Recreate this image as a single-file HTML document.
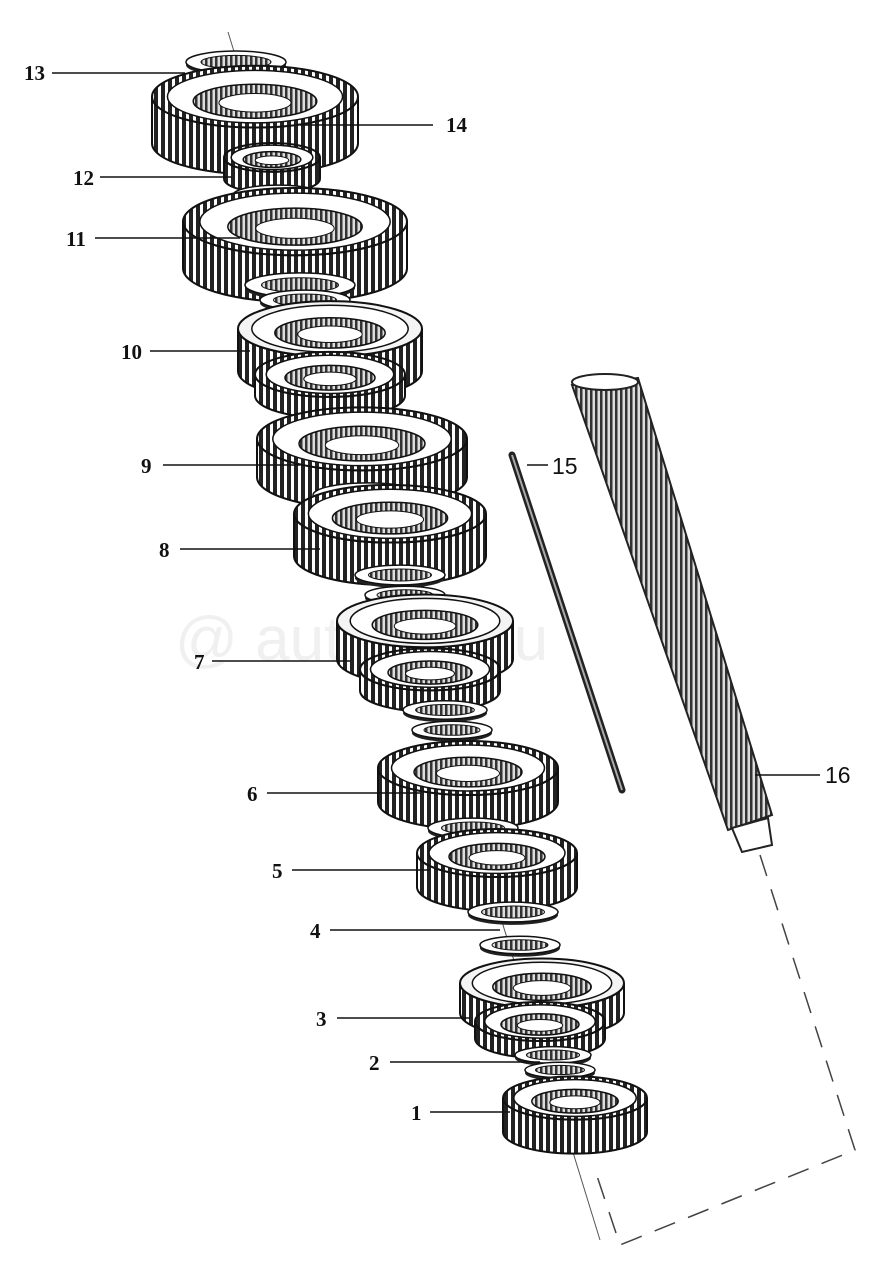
<!DOCTYPE html>
<html><head><meta charset="utf-8"><style>
html,body{margin:0;padding:0;background:#fff;}
svg{display:block;}
.l{font-family:"Liberation Serif",serif;font-weight:bold;font-size:21px;fill:#111;}
</style></head><body>
<svg id="s" width="879" height="1273" viewBox="0 0 879 1273" xmlns="http://www.w3.org/2000/svg">
<defs>
<pattern id="t" width="7" height="10" patternUnits="userSpaceOnUse">
<rect width="7" height="10" fill="#fff"/><rect width="4" height="10" fill="#222"/>
</pattern>
<pattern id="t2" width="5" height="6" patternUnits="userSpaceOnUse">
<rect width="5" height="6" fill="#ddd"/><rect width="2.5" height="6" fill="#333"/>
</pattern>
</defs>
<text x="175" y="660" font-family="Liberation Sans,sans-serif" font-size="62" fill="#f0f0f0">@ autoster.ru</text>
<line x1="228" y1="32" x2="600" y2="1240" stroke="#555" stroke-width="1"/>
<g id="g"></g>
<line x1="512" y1="455" x2="622" y2="790" stroke="#222" stroke-width="7" stroke-linecap="round"/>
<line x1="512" y1="455" x2="622" y2="790" stroke="#aaa" stroke-width="2"/>
<polygon points="572,385 638,378 772,815 728,830" fill="url(#t2)" stroke="#222" stroke-width="2"/>
<ellipse cx="605" cy="382" rx="33" ry="8" fill="#fff" stroke="#222" stroke-width="2"/>
<polygon points="732,828 768,818 772,845 742,852" fill="#fff" stroke="#222" stroke-width="2"/>
<polyline points="760,855 855,1150 620,1245 595,1170" fill="none" stroke="#444" stroke-width="1.5" stroke-dasharray="22,14"/>
<g stroke="#111" stroke-width="1.5">
<line x1="52" y1="73" x2="185" y2="73"/>
<line x1="300" y1="125" x2="433" y2="125"/>
<line x1="100" y1="177" x2="232" y2="177"/>
<line x1="95" y1="238" x2="240" y2="238"/>
<line x1="150" y1="351" x2="250" y2="351"/>
<line x1="163" y1="465" x2="300" y2="465"/>
<line x1="180" y1="549" x2="320" y2="549"/>
<line x1="212" y1="661" x2="350" y2="661"/>
<line x1="267" y1="793" x2="420" y2="793"/>
<line x1="292" y1="870" x2="430" y2="870"/>
<line x1="330" y1="930" x2="500" y2="930"/>
<line x1="337" y1="1018" x2="470" y2="1018"/>
<line x1="390" y1="1062" x2="540" y2="1062"/>
<line x1="430" y1="1112" x2="510" y2="1112"/>
<line x1="527" y1="465" x2="548" y2="465"/>
<line x1="755" y1="775" x2="820" y2="775"/>
</g>
<text class="l" x="24" y="80">13</text>
<text class="l" x="446" y="132">14</text>
<text class="l" x="73" y="185">12</text>
<text class="l" x="66" y="246">11</text>
<text class="l" x="121" y="359">10</text>
<text class="l" x="141" y="473">9</text>
<text class="l" x="159" y="557">8</text>
<text class="l" x="194" y="669">7</text>
<text class="l" x="247" y="801">6</text>
<text class="l" x="272" y="878">5</text>
<text class="l" x="310" y="938">4</text>
<text class="l" x="316" y="1026">3</text>
<text class="l" x="369" y="1070">2</text>
<text class="l" x="411" y="1120">1</text>
<text class="l" x="552" y="474" style="font-family:'Liberation Sans',sans-serif;font-weight:normal;font-size:23px">15</text>
<text class="l" x="825" y="783" style="font-family:'Liberation Sans',sans-serif;font-weight:normal;font-size:23px">16</text>
</svg>
<script>
var g=document.getElementById('g'),NS='http://www.w3.org/2000/svg';
function el(n,a){var e=document.createElementNS(NS,n);for(var k in a)e.setAttribute(k,a[k]);g.appendChild(e);return e;}
function gear(cx,cy,rx,h,sync){h=h*0.85;var ry=rx*0.3,top=cy-h/2,bot=cy+h/2;
 el('ellipse',{cx:cx,cy:bot,rx:rx,ry:ry,fill:'#222'});
 el('path',{d:'M'+(cx-rx)+','+top+' A'+rx+','+ry+' 0 0 0 '+(cx+rx)+','+top+' L'+(cx+rx)+','+bot+' A'+rx+','+ry+' 0 0 1 '+(cx-rx)+','+bot+' Z',fill:'url(#t)',stroke:'#111','stroke-width':2});
 el('ellipse',{cx:cx,cy:top,rx:rx,ry:ry,fill:sync?'#f4f4f4':'url(#t)',stroke:'#111','stroke-width':2});
 el('ellipse',{cx:cx,cy:top,rx:rx*0.85,ry:ry*0.85,fill:'#fff',stroke:'#111','stroke-width':1.5});
 el('ellipse',{cx:cx,cy:top+ry*0.15,rx:rx*0.6,ry:ry*0.55,fill:'url(#t2)',stroke:'#111','stroke-width':1.5});
 el('ellipse',{cx:cx,cy:top+ry*0.2,rx:rx*0.35,ry:ry*0.3,fill:'#fff',stroke:'#111','stroke-width':1});
}
function washer(cx,cy,rx){var ry=rx*0.22;
 el('ellipse',{cx:cx,cy:cy+3,rx:rx,ry:ry,fill:'#222'});
 el('ellipse',{cx:cx,cy:cy,rx:rx,ry:ry,fill:'#fff',stroke:'#111','stroke-width':1.5});
 el('ellipse',{cx:cx,cy:cy,rx:rx*0.7,ry:ry*0.6,fill:'url(#t2)',stroke:'#111'});
}
washer(236,62,50);
gear(255,120,103,55);
gear(272,168,48,25);washer(278,195,45);washer(282,212,40);
gear(295,245,112,55);washer(300,285,55);washer(305,300,45);
gear(330,350,92,50,1);gear(330,385,75,25);washer(350,420,40);washer(355,432,35);
gear(362,458,105,45);washer(368,495,55);
gear(390,535,96,50);washer(400,575,45);washer(405,595,40);
gear(425,640,88,45,1);gear(430,680,70,25);washer(445,710,42);washer(452,730,40);washer(458,755,42);
gear(468,785,90,40);washer(473,828,45);
gear(497,870,80,40);washer(513,912,45);washer(520,945,40);
gear(542,998,82,35,1);gear(540,1030,65,20);washer(553,1055,38);washer(560,1070,35);
gear(575,1115,72,40);
</script>
</body></html>
